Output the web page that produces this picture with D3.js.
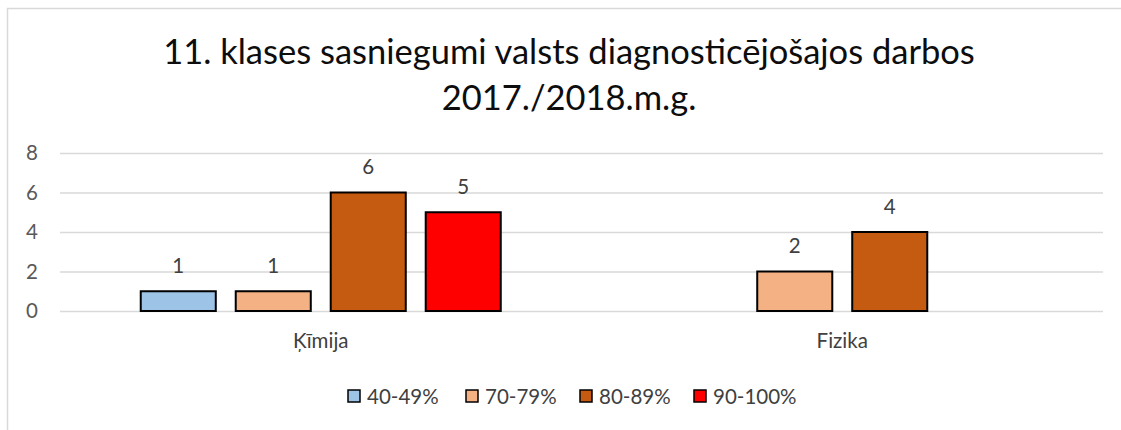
<!DOCTYPE html>
<html>
<head>
    <meta charset="utf-8">
    <title>11. klases sasniegumi</title>
    <style type="text/css">
        html, body { margin: 0; padding: 0; background: #fff; }
        svg text { font-family: Lato, "Open Sans", sans-serif; }
    </style>
</head>
<body>
<div id="chart"></div>
<script src="https://cdnjs.cloudflare.com/ajax/libs/d3/7.8.5/d3.min.js"></script>
<script>

var categories = ["Ķīmija", "Fizika"];
var seriesNames = ["40-49%", "70-79%", "80-89%", "90-100%"];
var seriesColors = ["#9dc3e6", "#f4b183", "#c55a11", "#ff0000"];
// values per series, in category order (null = no bar)
var v4049 = [1, null];
var v7079 = [1, 2];
var v8089 = [6, 4];
var v90100 = [5, null];
var yTicks = [0, 2, 4, 6, 8];

var seriesValues = [v4049, v7079, v8089, v90100];

var W = 1121, H = 430;
var svg = d3.select("#chart").append("svg")
    .attr("width", W)
    .attr("height", H);

// chart frame
svg.append("rect")
    .attr("x", 7.5).attr("y", 8.5)
    .attr("width", 1130).attr("height", 440)
    .style("fill", "none")
    .style("stroke", "#d9d9d9")
    .style("stroke-width", 1.5);

// title
var title = svg.append("text")
    .attr("text-anchor", "middle")
    .style("font-size", "34.5px")
    .style("fill", "#0d0d0d");
title.append("tspan").attr("x", 569).attr("y", 64)
    .text("11. klases sasniegumi valsts diagnosticējošajos darbos");
title.append("tspan").attr("x", 569).attr("y", 110)
    .text("2017./2018.m.g.");

var plot = {left: 60, right: 1103, top: 153, bottom: 311};

var y = d3.scaleLinear().domain([0, 8]).range([plot.bottom, plot.top]);

var x0 = d3.scaleBand()
    .domain(categories)
    .range([plot.left, plot.right])
    .padding(0);

var x1 = d3.scaleBand()
    .domain(seriesNames)
    .range([0, x0.bandwidth()])
    .paddingInner(0.21)
    .paddingOuter(0.85);

// grid lines
var yAxis = d3.axisLeft(y)
    .tickValues(yTicks)
    .tickSize(-(plot.right - plot.left))
    .tickPadding(22);

var gy = svg.append("g")
    .attr("transform", "translate(" + plot.left + ",0)")
    .call(yAxis);
gy.select(".domain").remove();
gy.selectAll(".tick line")
    .style("stroke", "#d9d9d9")
    .style("stroke-width", 1.5);
gy.selectAll(".tick text")
    .style("font-size", "20.5px")
    .style("fill", "#595959");

// bars
var bars = [];
seriesNames.forEach(function(s, i) {
    categories.forEach(function(c, j) {
        var v = seriesValues[i][j];
        if (v != null) bars.push({series: s, cat: c, value: v, color: seriesColors[i]});
    });
});

svg.append("g").selectAll("rect")
    .data(bars)
    .enter()
    .append("rect")
    .attr("x", function(d) { return x0(d.cat) + x1(d.series); })
    .attr("y", function(d) { return y(d.value); })
    .attr("width", x1.bandwidth())
    .attr("height", function(d) { return y(0) - y(d.value); })
    .style("fill", function(d) { return d.color; })
    .style("stroke", "#000")
    .style("stroke-width", 2);

// data labels
svg.append("g").selectAll("text")
    .data(bars)
    .enter()
    .append("text")
    .attr("x", function(d) { return x0(d.cat) + x1(d.series) + x1.bandwidth() / 2; })
    .attr("y", function(d) { return y(d.value) - 18.5; })
    .attr("text-anchor", "middle")
    .style("font-size", "20.5px")
    .style("fill", "#404040")
    .text(function(d) { return d.value; });

// category labels
svg.append("g").selectAll("text")
    .data(categories)
    .enter()
    .append("text")
    .attr("x", function(d) { return x0(d) + x0.bandwidth() / 2; })
    .attr("y", 348)
    .attr("text-anchor", "middle")
    .style("font-size", "20.5px")
    .style("fill", "#404040")
    .text(function(d) { return d; });

// legend
var legendX = [348, 466, 580, 694];
var legend = svg.append("g").selectAll("g")
    .data(seriesNames)
    .enter()
    .append("g")
    .attr("transform", function(d, i) { return "translate(" + legendX[i] + ",390)"; });
legend.append("rect")
    .attr("width", 12).attr("height", 12)
    .style("fill", function(d, i) { return seriesColors[i]; })
    .style("stroke", "#000")
    .style("stroke-width", 1.5);
legend.append("text")
    .attr("x", 19).attr("y", 13.5)
    .style("font-size", "20.5px")
    .style("fill", "#404040")
    .text(function(d) { return d; });

</script>
</body>
</html>
